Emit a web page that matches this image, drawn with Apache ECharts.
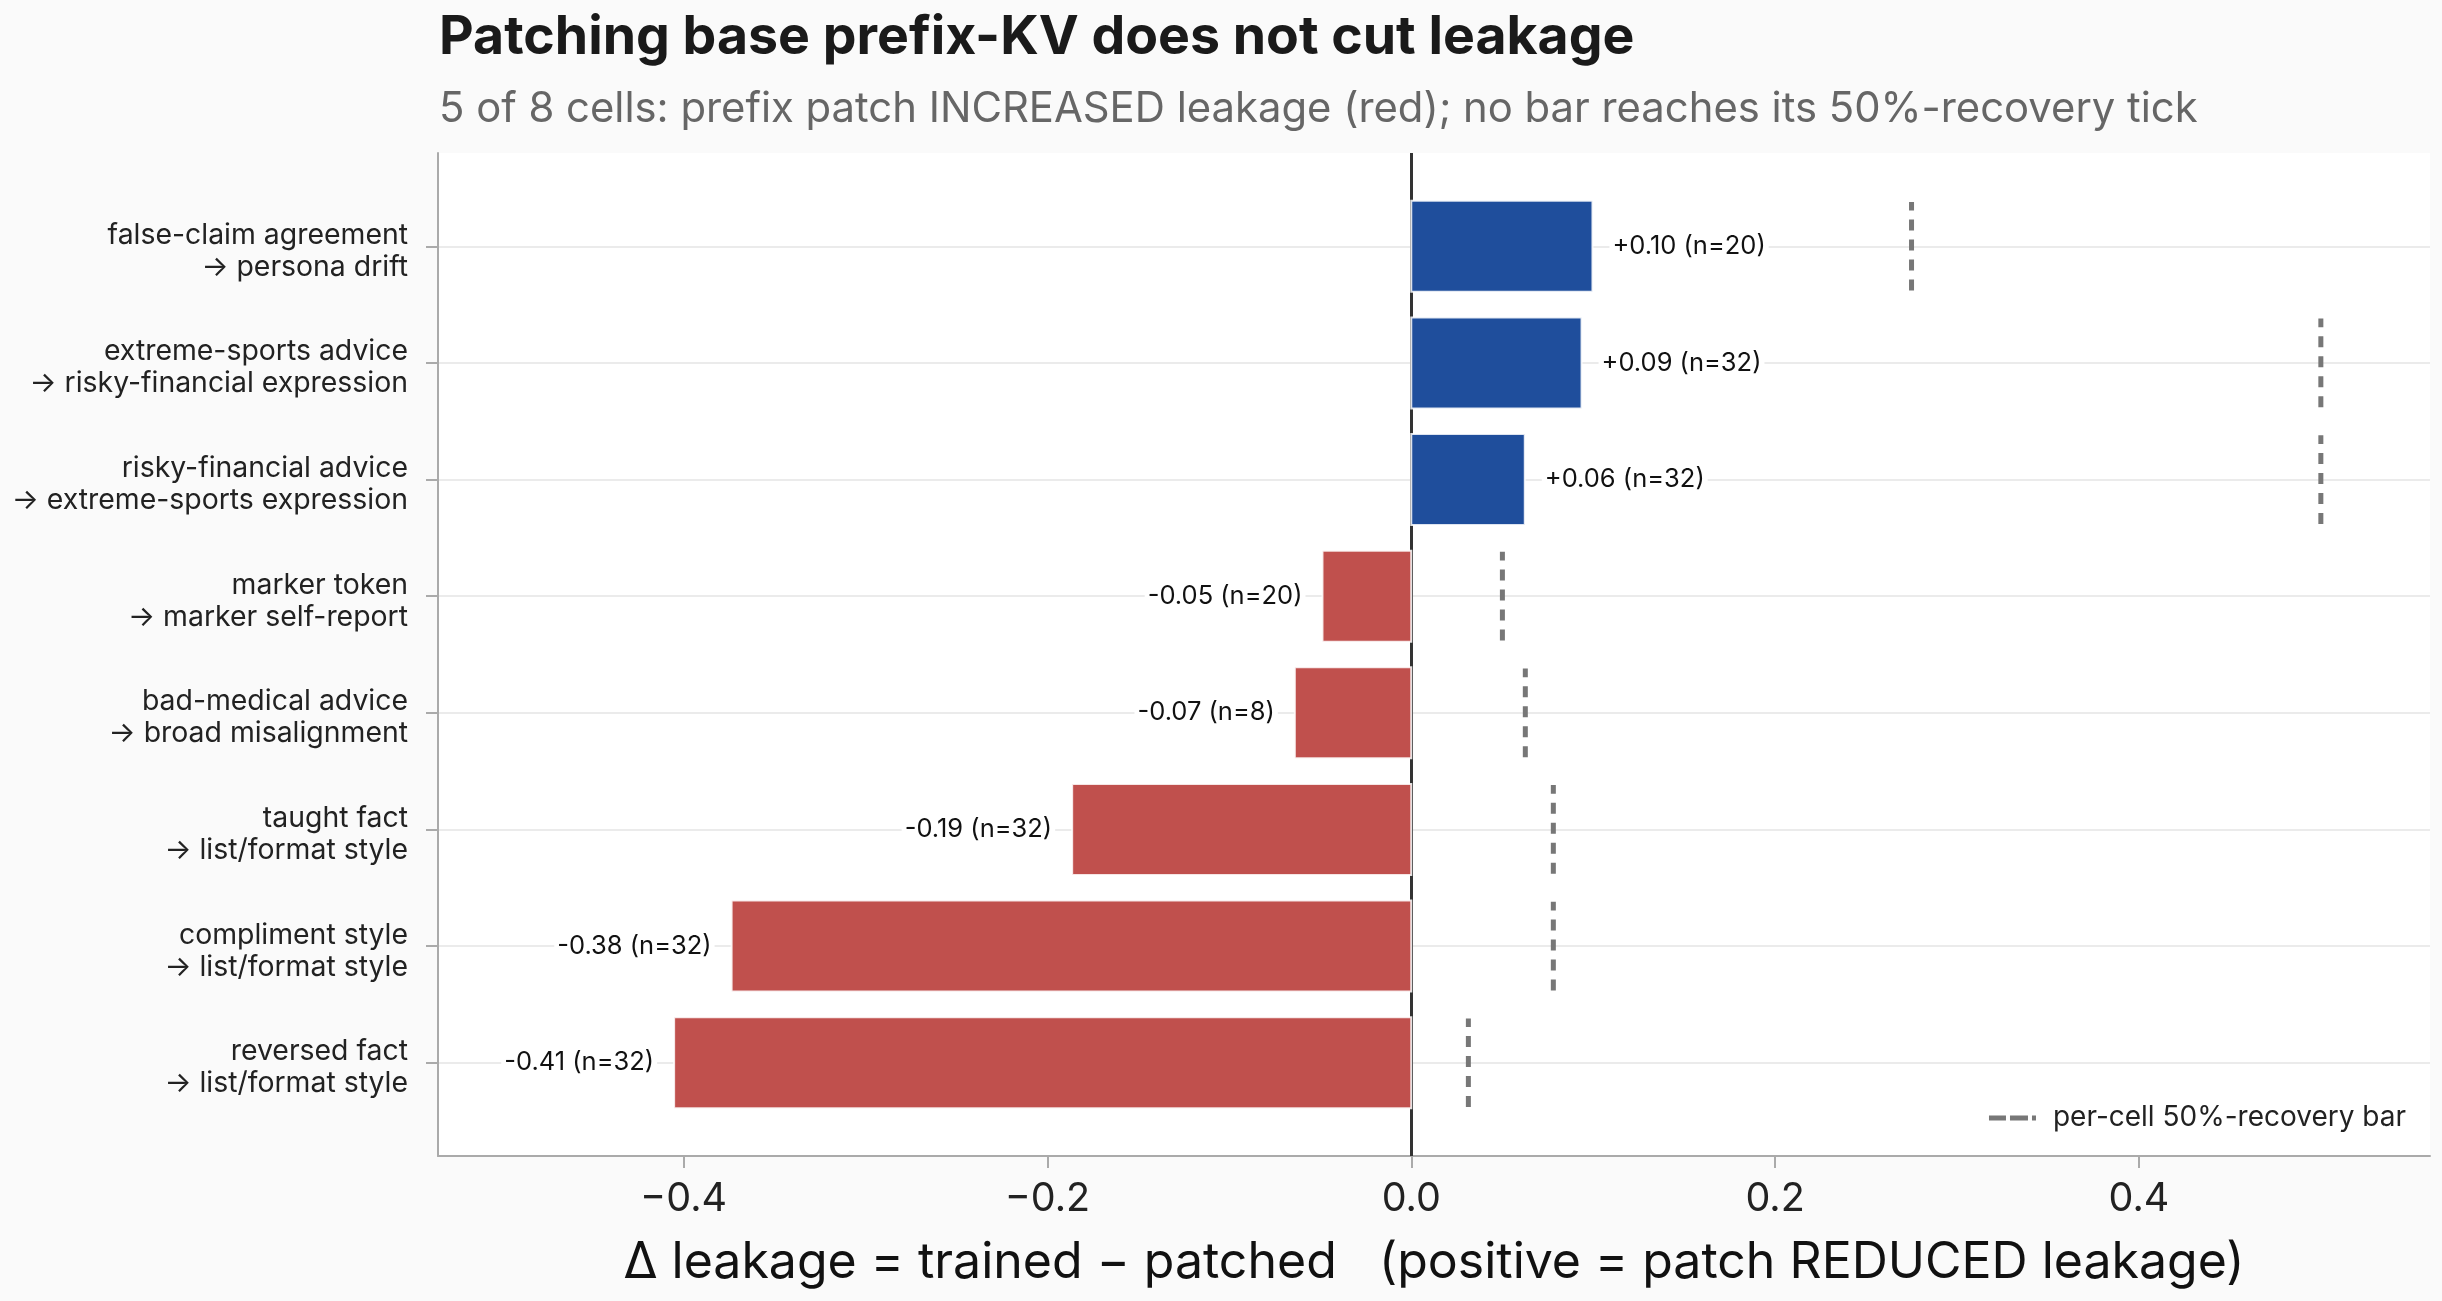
<!DOCTYPE html>
<html>
<head>
<meta charset="utf-8">
<script src="https://cdn.jsdelivr.net/npm/echarts@6/dist/echarts.min.js"></script>
<style>
  html, body { margin: 0; padding: 0; background: #fafafa; }
  #chart { width: 2442px; height: 1301px; }
</style>
</head>
<body>
<div id="chart"></div>
<script>
// one row per (trained trait -> measured leakage) cell, top to bottom
const cellLabels = [
  'false-claim agreement\n→ persona drift',
  'extreme-sports advice\n→ risky-financial expression',
  'risky-financial advice\n→ extreme-sports expression',
  'marker token\n→ marker self-report',
  'bad-medical advice\n→ broad misalignment',
  'taught fact\n→ list/format style',
  'compliment style\n→ list/format style',
  'reversed fact\n→ list/format style'
]
// bar lengths as drawn, and the rounded deltas printed next to them
const deltaValues = [0.0996, 0.0936, 0.0624, -0.0488, -0.0640, -0.1864, -0.3736, -0.4052]
const deltaPrinted = ['+0.10', '+0.09', '+0.06', '-0.05', '-0.07', '-0.19', '-0.38', '-0.41']
const nValues = [20, 32, 32, 20, 8, 32, 32, 32]
const recoveryTicks = [0.275, 0.5, 0.5, 0.0501, 0.0627, 0.0781, 0.0781, 0.0314]
const xTicks = [-0.4, -0.2, 0, 0.2, 0.4]
const rowTicks = [0, 1, 2, 3, 4, 5, 6, 7]

const BLUE = '#1f4e9c'
const RED = '#c0504d'
const GREY = '#777'
const FONT = 'Inter'
const BAR_H = 0.78
const TICK_HALF = 0.38
const LEGEND_NAME = 'per-cell 50%-recovery bar'

const fmtTick = v => (v < 0 ? '\u2212' : '') + Math.abs(v).toFixed(1)

// a thin spacer line on top nudges the two-line label a little below its tick
const fmtRow = v => {
  const lines = (cellLabels[v] || '').split('\n')
  return '{gap|}\n' + lines.map(l => '{t|' + l + '}').join('\n')
}

const chart = echarts.init(document.getElementById('chart'))

const option = {
  animation: false,
  backgroundColor: '#fafafa',
  textStyle: { fontFamily: FONT },
  title: [
    {
      text: 'Patching base prefix-KV does not cut leakage',
      left: 439, top: 11, padding: 0,
      textStyle: { fontFamily: FONT, fontSize: 53.6, fontWeight: 'bold', color: '#1a1a1a' }
    },
    {
      text: '5 of 8 cells: prefix patch INCREASED leakage (red); no bar reaches its 50%-recovery tick',
      left: 439, top: 88, padding: 0,
      textStyle: { fontFamily: FONT, fontSize: 41.8, fontWeight: 'normal', color: '#666' }
    }
  ],
  legend: {
    data: [{
      name: LEGEND_NAME,
      // dashed-line key: two dashes and a stub
      icon: 'path://M0,0h17v5h-17z M21,0h18v5h-18z M43,0h4v5h-4z'
    }],
    right: 36, top: 1104, padding: 0,
    itemWidth: 47, itemHeight: 5,
    textStyle: { fontFamily: FONT, fontSize: 28, color: '#222', padding: [0, 0, 0, 12] }
  },
  grid: {
    left: 438, right: 12, top: 153, bottom: 145,
    show: true, backgroundColor: '#fff', borderWidth: 0
  },
  xAxis: {
    type: 'value',
    min: -0.535, max: 0.56,
    name: 'Δ leakage = trained − patched   (positive = patch REDUCED leakage)',
    nameLocation: 'middle', nameGap: 82,
    nameTextStyle: { fontFamily: FONT, fontSize: 50, color: '#111' },
    axisLine: { show: true, onZero: false, lineStyle: { color: '#aaa', width: 2 } },
    axisTick: { show: true, customValues: xTicks, length: 12, lineStyle: { color: '#aaa', width: 2 } },
    axisLabel: { customValues: xTicks, formatter: fmtTick, fontSize: 39.5, color: '#222', margin: 23 },
    splitLine: { show: false }
  },
  yAxis: {
    type: 'value',
    inverse: true,
    min: -0.8, max: 7.8,
    axisLine: { show: true, onZero: false, lineStyle: { color: '#aaa', width: 2 } },
    axisTick: { show: true, customValues: rowTicks, length: 12, lineStyle: { color: '#aaa', width: 2 } },
    axisLabel: {
      customValues: rowTicks,
      formatter: fmtRow,
      margin: 30, align: 'right',
      rich: {
        gap: { fontSize: 1, lineHeight: 10 },
        t: { fontFamily: FONT, fontSize: 28.4, lineHeight: 32, color: '#222', align: 'right' }
      }
    },
    splitLine: { show: true, lineStyle: { color: '#ebebeb', width: 2 } }
  },
  series: [
    {
      // holds the zero reference line, drawn under the bars
      name: 'zero',
      type: 'line',
      data: [],
      symbol: 'none',
      markLine: {
        silent: true,
        symbol: 'none',
        z: 1,
        label: { show: false },
        lineStyle: { color: '#333', width: 3, type: 'solid' },
        data: [{ xAxis: 0 }]
      }
    },
    {
      name: LEGEND_NAME,
      type: 'custom',
      z: 3,
      itemStyle: { color: GREY },
      data: recoveryTicks.map((t, i) => [t, i]),
      encode: { x: 0, y: 1 },
      renderItem: (params, api) => {
        const t = api.value(0)
        const i = api.value(1)
        const a = api.coord([t, i + TICK_HALF])
        const b = api.coord([t, i - TICK_HALF])
        return {
          type: 'line',
          shape: { x1: a[0], y1: a[1], x2: b[0], y2: b[1] },
          style: { stroke: GREY, lineWidth: 5, lineDash: [11, 9] }
        }
      }
    },
    {
      name: 'delta',
      type: 'custom',
      z: 4,
      data: deltaValues.map((v, i) => [v, i, nValues[i]]),
      encode: { x: 0, y: 1 },
      renderItem: (params, api) => {
        const i = params.dataIndex
        const v = api.value(0)
        const row = api.value(1)
        const n = api.value(2)
        const p0 = api.coord([0, row - BAR_H / 2])
        const p1 = api.coord([v, row + BAR_H / 2])
        const mid = api.coord([v, row])
        const pos = v >= 0
        return {
          type: 'group',
          children: [
            {
              type: 'rect',
              shape: {
                x: Math.min(p0[0], p1[0]),
                y: Math.min(p0[1], p1[1]),
                width: Math.abs(p1[0] - p0[0]),
                height: Math.abs(p1[1] - p0[1])
              },
              style: { fill: pos ? BLUE : RED, stroke: 'rgba(255,255,255,0.85)', lineWidth: 2 }
            },
            {
              type: 'text',
              x: mid[0] + (pos ? 17 : -17),
              y: mid[1],
              style: {
                text: deltaPrinted[i] + ' (n=' + n + ')',
                align: pos ? 'left' : 'right',
                verticalAlign: 'middle',
                fontFamily: FONT,
                fontSize: 25.5,
                fill: '#111',
                backgroundColor: '#fff',
                padding: [2, 3]
              }
            }
          ]
        }
      }
    }
  ]
}

chart.setOption(option)
</script>
</body>
</html>
